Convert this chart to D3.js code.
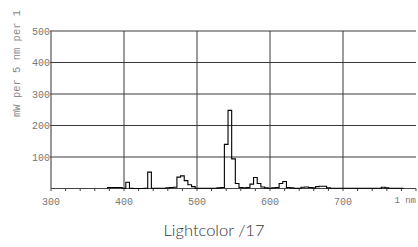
<!DOCTYPE html>
<meta charset="UTF-8">
<script src="https://d3js.org/d3.v7.min.js"></script>
<style>
  body { margin: 0; background: #fff; }
</style>
<body>
<div id="my_dataviz"></div>
<script>

// spectrum, 5 nm bins (centre wavelength) and power per bin
var wavelengths = d3.range(380, 781, 5);
var power = [
  3, 3, 3, 3, 1, 20, 1, 0, 0, 0,          // 380-425
  1, 52, 1, 1, 1, 1, 2, 3, 4, 36,         // 430-475
  40, 25, 12, 6, 1, 1, 1, 1, 1, 1,        // 480-525
  2, 3, 140, 248, 94, 16, 3, 2, 3, 14,    // 530-575
  35, 16, 5, 2, 1, 2, 3, 16, 22, 3,       // 580-625
  2, 1, 1, 4, 5, 3, 2, 6, 7, 7,           // 630-675
  2, 1, 1, 1, 1, 1, 1, 1, 1, 1,           // 680-725
  1, 1, 1, 1, 1, 4, 2, 1, 1, 1,           // 730-775
  1                                        // 780
];
var xTicks = [300, 400, 500, 600, 700];
var yTicks = [100, 200, 300, 400, 500];
var xUnitLabel = "1 nm";
var yTitle = "mW per 5 nm per 1";
var chartTitle = "Lightcolor /17";

var data = wavelengths.map(function(w, i) { return {nm: w, v: power[i]}; });

var W = 418, H = 247;
var margin = {top: 31, right: 2, bottom: 58.5, left: 51};

var svg = d3.select("#my_dataviz")
  .append("svg")
    .attr("width", W)
    .attr("height", H);

var x = d3.scaleLinear().domain([300, 800]).range([margin.left, W - margin.right]);
var y = d3.scaleLinear().domain([0, 500]).range([H - margin.bottom, margin.top]);

var monoFont = "'Liberation Mono', 'DejaVu Sans Mono', monospace";

// grid
svg.append("g")
  .selectAll("line")
  .data(yTicks)
  .enter()
  .append("line")
    .attr("x1", x(300) - 1).attr("x2", x(800))
    .attr("y1", function(d) { return y(d); })
    .attr("y2", function(d) { return y(d); })
    .attr("stroke", "#3a3a3a")
    .attr("stroke-width", 1);

svg.append("g")
  .selectAll("line")
  .data(xTicks.slice(1))
  .enter()
  .append("line")
    .attr("x1", function(d) { return x(d); })
    .attr("x2", function(d) { return x(d); })
    .attr("y1", y(500)).attr("y2", y(0))
    .attr("stroke", "#3a3a3a")
    .attr("stroke-width", 1);

// frame: left + bottom axis lines
svg.append("line")
  .attr("x1", x(300)).attr("x2", x(300))
  .attr("y1", y(500)).attr("y2", y(0))
  .attr("stroke", "#555").attr("stroke-width", 1.2);
svg.append("line")
  .attr("x1", x(300)).attr("x2", x(800))
  .attr("y1", y(0)).attr("y2", y(0))
  .attr("stroke", "#444").attr("stroke-width", 1.2);

// minor ticks every 20 nm
svg.append("g")
  .selectAll("line")
  .data(d3.range(300, 801, 20))
  .enter()
  .append("line")
    .attr("x1", function(d) { return x(d); })
    .attr("x2", function(d) { return x(d); })
    .attr("y1", y(0)).attr("y2", y(0) + 2.5)
    .attr("stroke", "#444");

// spectrum as a step line
var pts = data.map(function(d) { return [d.nm - 2.5, d.v]; });
pts.push([780 + 2.5, data[data.length - 1].v]);
pts.unshift([377.5, 0]);
pts.push([782.5, 0]);

svg.append("path")
  .datum(pts)
  .attr("fill", "none")
  .attr("stroke", "#000")
  .attr("stroke-width", 1.1)
  .attr("d", d3.line()
    .x(function(d) { return x(d[0]); })
    .y(function(d) { return y(d[1]); })
    .curve(d3.curveStepAfter));

// y tick labels
svg.append("g")
  .selectAll("text")
  .data(yTicks)
  .enter()
  .append("text")
    .attr("x", margin.left - 1)
    .attr("y", function(d) { return y(d); })
    .attr("dy", "0.35em")
    .attr("text-anchor", "end")
    .style("font-family", monoFont)
    .style("font-size", "10px")
    .style("fill", "#777")
    .text(function(d) { return d; });

// x tick labels
svg.append("g")
  .selectAll("text")
  .data(xTicks)
  .enter()
  .append("text")
    .attr("x", function(d) { return x(d); })
    .attr("y", 201)
    .attr("dy", "0.35em")
    .attr("text-anchor", "middle")
    .style("font-family", monoFont)
    .style("font-size", "10px")
    .style("fill", "#777")
    .text(function(d) { return d; });

svg.append("text")
  .attr("x", W - 2)
  .attr("y", 200)
  .attr("dy", "0.35em")
  .attr("text-anchor", "end")
  .style("font-family", monoFont)
  .style("font-size", "9px")
  .style("fill", "#777")
  .text(xUnitLabel);

// y axis title
svg.append("text")
  .attr("transform", "translate(20,117) rotate(-90)")
  .attr("text-anchor", "start")
  .style("font-family", monoFont)
  .style("font-size", "10.5px")
  .style("fill", "#888")
  .text(yTitle);

// chart title
svg.append("text")
  .attr("x", 214)
  .attr("y", 236)
  .attr("text-anchor", "middle")
  .style("font-family", "Lato, 'Open Sans', sans-serif")
  .style("font-weight", "300")
  .style("font-size", "16.5px")
  .style("fill", "#333")
  .text(chartTitle);

</script>
</body>
